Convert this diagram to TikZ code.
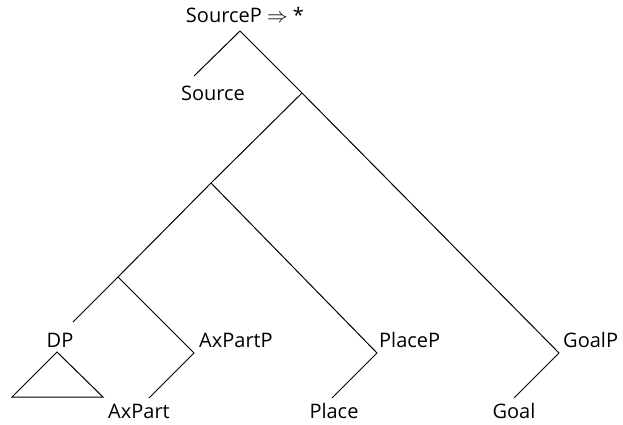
\documentclass[tikz,border=0pt]{standalone}
\usepackage{fontspec}
\setmainfont{Open Sans}
\begin{document}
\begin{tikzpicture}[x=1pt,y=-1pt,
  branch/.style={line width=1pt},
  lbl/.style={inner sep=0pt,font=\fontsize{20}{22}\selectfont}]
\useasboundingbox (0,0) rectangle (623,425);
% branching points and leaf ends
\coordinate (top) at (240,31);
\coordinate (srcend) at (194,76);
\coordinate (j1) at (302,93);
\coordinate (j2) at (211,183);
\coordinate (j3) at (118,277);
\coordinate (dpend) at (73,322);
\coordinate (axp) at (194,353);
\coordinate (axend) at (149,398);
\coordinate (plp) at (377,353);
\coordinate (plend) at (332,398);
\coordinate (glp) at (559,353);
\coordinate (glend) at (514,398);
\coordinate (tri) at (57,352);
\coordinate (tril) at (12,397);
\coordinate (trir) at (103,397);
% labels
\node[lbl] (root) at (245,15) {SourceP $\Rightarrow$ *};
\node[lbl] (source) at (213,93) {Source};
\node[lbl] (dp) at (60,340) {DP};
\node[lbl,anchor=west] (axpartp) at (199,340) {AxPartP};
\node[lbl,anchor=west] (placep) at (379,340) {PlaceP};
\node[lbl,anchor=west] (goalp) at (563,340) {GoalP};
\node[lbl] (axpart) at (139,411) {AxPart};
\node[lbl] (place) at (334,411) {Place};
\node[lbl] (goal) at (514,411) {Goal};
% tree branches
\draw[branch] (srcend) -- (top) -- (j1) -- (glp) -- (glend);
\draw[branch] (j1) -- (j2) -- (j3) -- (dpend);
\draw[branch] (j2) -- (plp) -- (plend);
\draw[branch] (j3) -- (axp) -- (axend);
\draw[branch] (tri) -- (tril) -- (trir) -- cycle;
\end{tikzpicture}
\end{document}
